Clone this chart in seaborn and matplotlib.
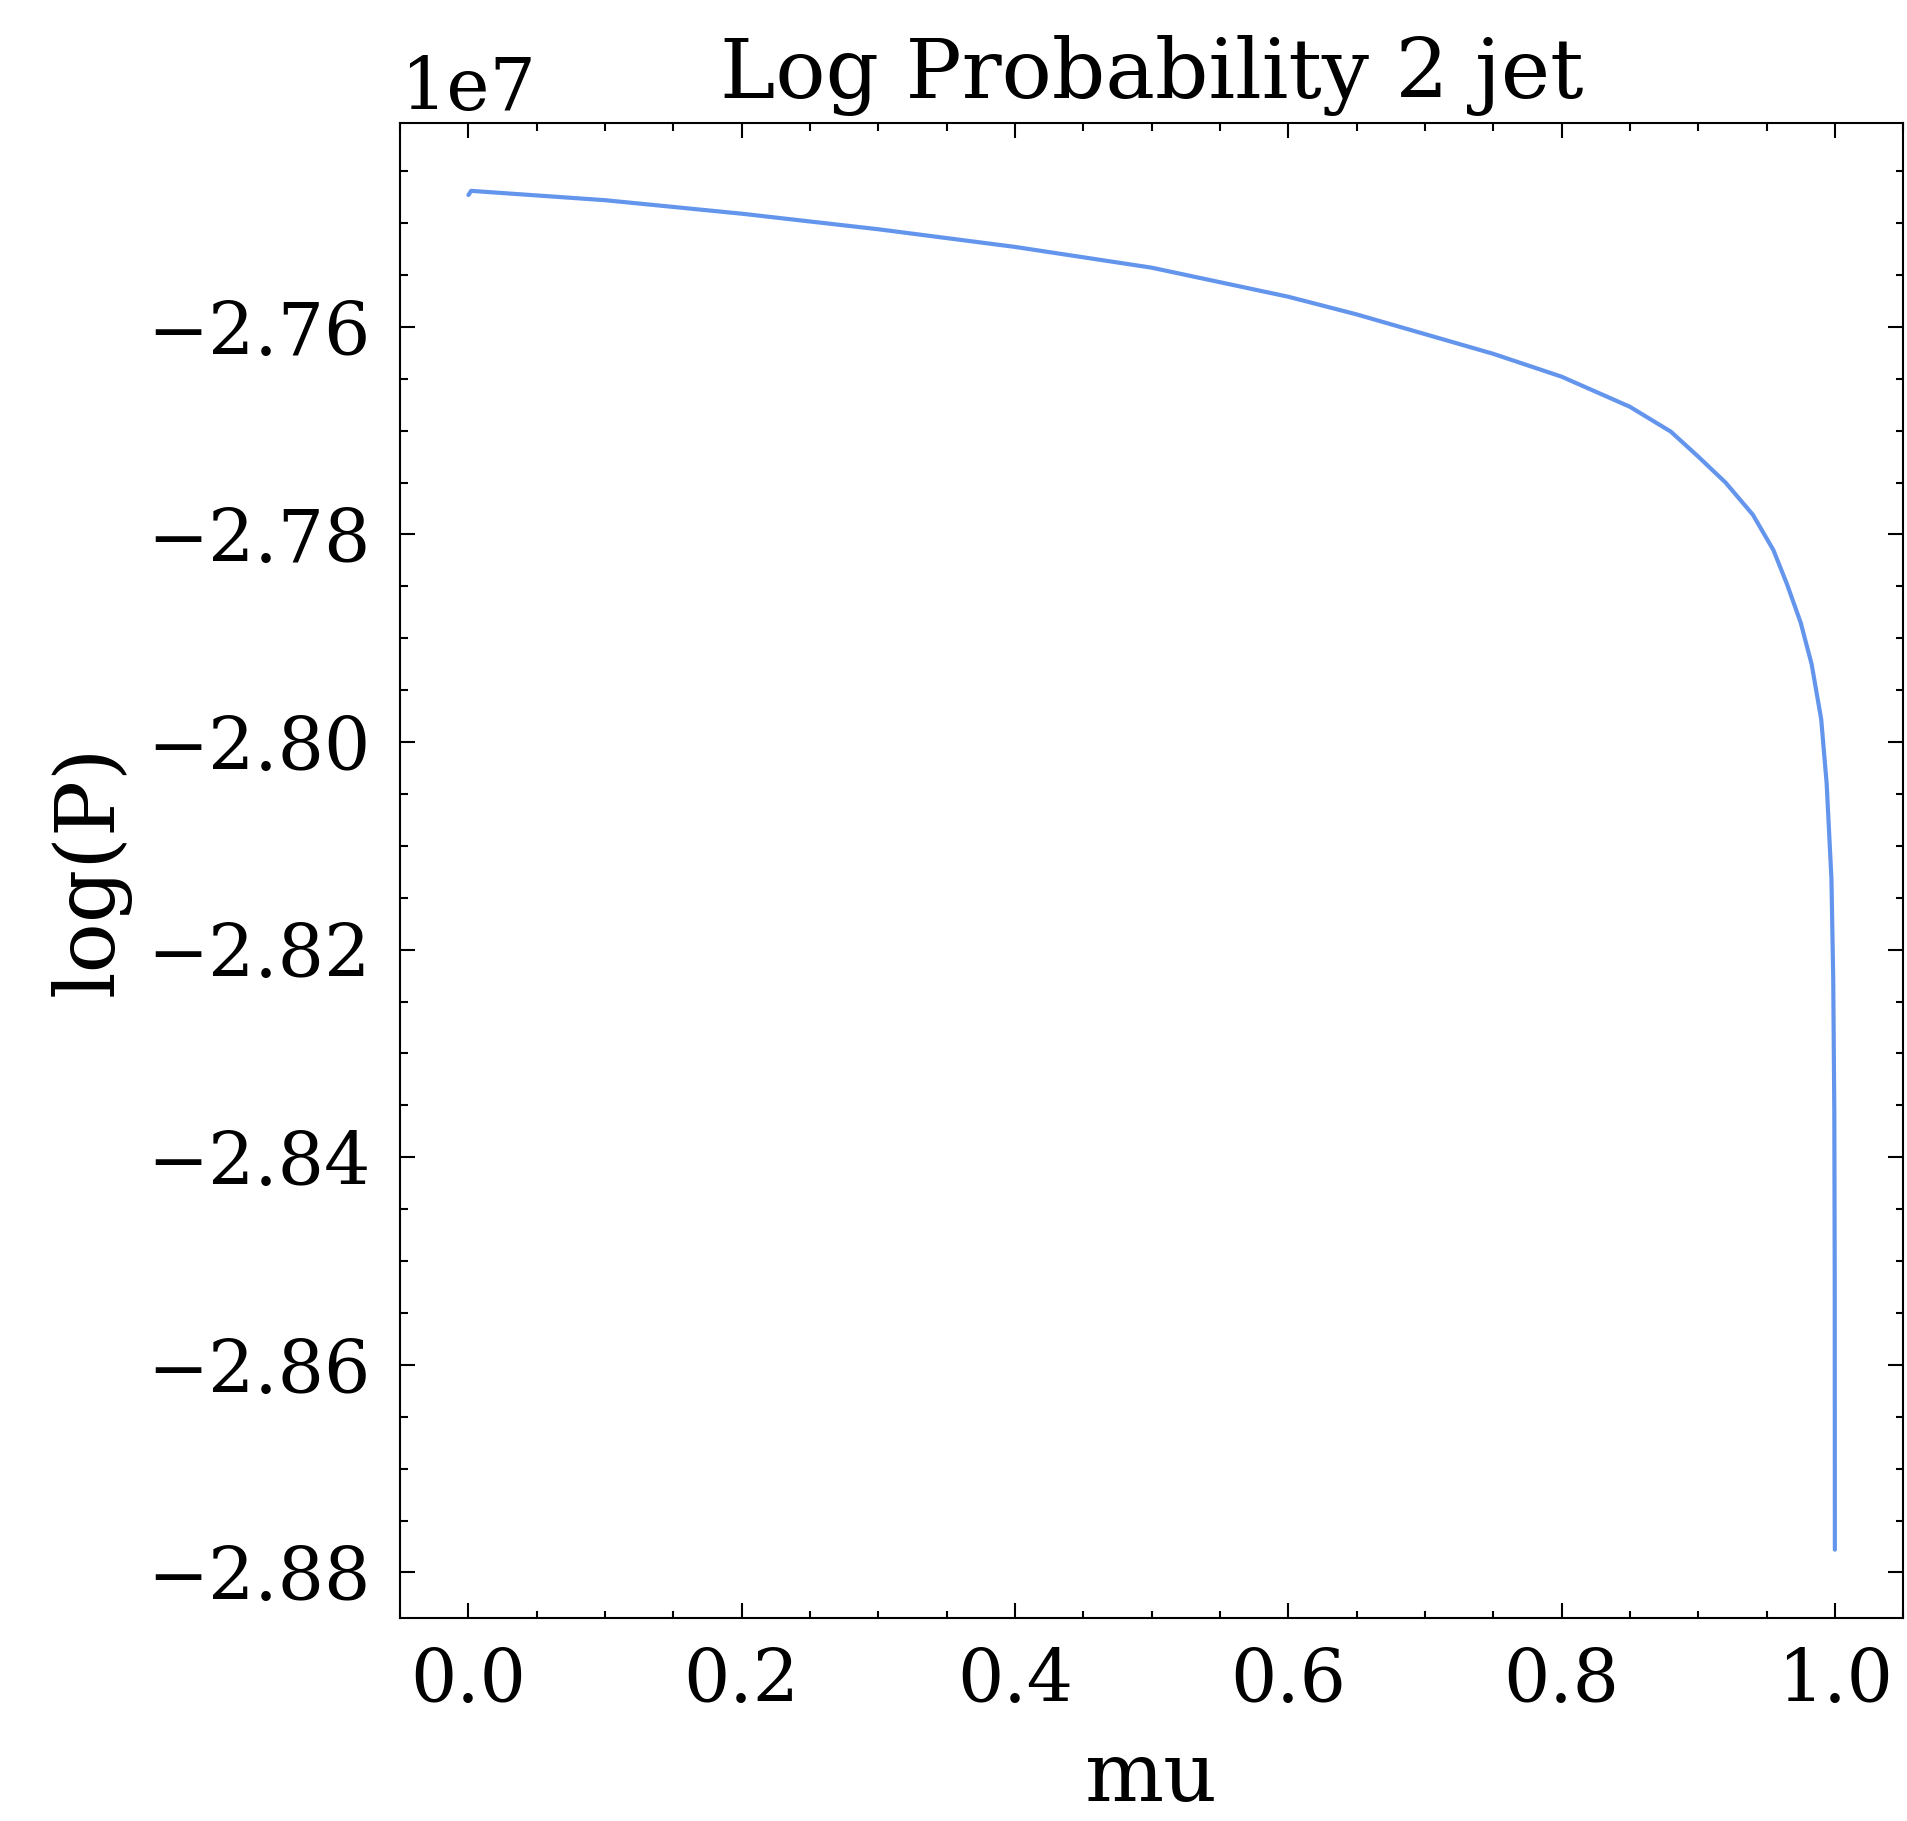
import numpy as np
import pandas as pd
import matplotlib
matplotlib.use("Agg")
import matplotlib.pyplot as plt
import seaborn as sns
from matplotlib.ticker import MultipleLocator

# ------------------------------------------------------------------------
# valores (log P em unidades de 1e7)
# ------------------------------------------------------------------------
mu = [0.0, 0.002, 0.1, 0.2, 0.3, 0.4, 0.5, 0.6, 0.65, 0.7,
      0.75, 0.8, 0.85, 0.88, 0.9, 0.92, 0.94, 0.955, 0.965, 0.975,
      0.983, 0.99, 0.994, 0.9975, 0.9988, 0.9996, 0.9999, 1.0]
log_p = [-2.7473, -2.7469, -2.7478, -2.7491, -2.7506, -2.7523, -2.7543, -2.7571,
         -2.7588, -2.7607, -2.7626, -2.7648, -2.7677, -2.7701, -2.7725, -2.7750,
         -2.7781, -2.7815, -2.7848, -2.7885, -2.7925, -2.7978, -2.8040, -2.8132,
         -2.8228, -2.8357, -2.8518, -2.8778]

df = pd.DataFrame({"mu": mu, "logP": np.array(log_p) * 1e7})

# ------------------------------------------------------------------------
# estilo (ticks para dentro, fonte serifada, texto preto)
# ------------------------------------------------------------------------
sns.set_style("ticks")
plt.rcParams["font.family"] = ["DejaVu Serif"]
plt.rcParams.update({
    "text.color": "black", "axes.labelcolor": "black", "axes.edgecolor": "black",
    "xtick.color": "black", "ytick.color": "black",
    "xtick.direction": "in", "ytick.direction": "in",
    "xtick.top": True, "ytick.right": True,
    "xtick.minor.visible": True, "ytick.minor.visible": True,
    "xtick.major.size": 3.6, "ytick.major.size": 3.6,
    "xtick.minor.size": 1.8, "ytick.minor.size": 1.8,
    "xtick.major.width": 0.5, "ytick.major.width": 0.5,
    "xtick.minor.width": 0.5, "ytick.minor.width": 0.5,
    "xtick.major.pad": 7, "ytick.major.pad": 7,
    "axes.linewidth": 0.5,
    "xtick.labelsize": 17.5, "ytick.labelsize": 17.5,
})

fig, ax = plt.subplots(figsize=(1907 / 300, 1821 / 300), dpi=300)
fig.subplots_adjust(left=0.2098, right=0.998, bottom=0.1117, top=0.9325)

sns.lineplot(data=df, x="mu", y="logP", ax=ax, color="cornflowerblue", linewidth=1.0)

ax.xaxis.set_minor_locator(MultipleLocator(0.05))
ax.yaxis.set_minor_locator(MultipleLocator(0.005e7))
ax.set_title("Log Probability 2 jet", fontsize=20)
ax.set_xlabel("mu", fontsize=20, labelpad=5)
ax.set_ylabel("log(P)", fontsize=20)

fig.savefig("out.png", dpi=300)
